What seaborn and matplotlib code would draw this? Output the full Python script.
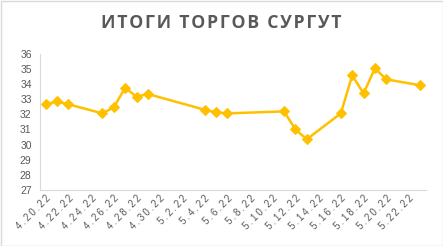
import matplotlib
matplotlib.use("Agg")
import matplotlib.pyplot as plt
import matplotlib.dates as mdates
import seaborn as sns
import pandas as pd
import numpy as np

dates = ["2022-04-20", "2022-04-21", "2022-04-22", "2022-04-25", "2022-04-26",
         "2022-04-27", "2022-04-28", "2022-04-29", "2022-05-04", "2022-05-05",
         "2022-05-06", "2022-05-11", "2022-05-12", "2022-05-13", "2022-05-16",
         "2022-05-17", "2022-05-18", "2022-05-19", "2022-05-20", "2022-05-23"]
prices = [32.66, 32.85, 32.66, 32.06, 32.46, 33.75, 33.16, 33.34, 32.30, 32.13,
          32.06, 32.19, 31.00, 30.35, 32.06, 34.57, 33.38, 35.03, 34.31, 33.91]
tick_dates = ["2022-04-20", "2022-04-22", "2022-04-24", "2022-04-26", "2022-04-28",
              "2022-04-30", "2022-05-02", "2022-05-04", "2022-05-06", "2022-05-08",
              "2022-05-10", "2022-05-12", "2022-05-14", "2022-05-16", "2022-05-18",
              "2022-05-20", "2022-05-22"]
tick_labels = ["4.20.22", "4.22.22", "4.24.22", "4.26.22", "4.28.22", "4.30.22",
               "5.2.22", "5.4.22", "5.6.22", "5.8.22", "5.10.22", "5.12.22",
               "5.14.22", "5.16.22", "5.18.22", "5.20.22", "5.22.22"]
y_ticks = [27, 28, 29, 30, 31, 32, 33, 34, 35, 36]
title = "ИТОГИ ТОРГОВ СУРГУТ"

sns.set_theme(style="white")
plt.rcParams['font.family'] = ['Liberation Sans', 'DejaVu Sans']

df = pd.DataFrame({"date": pd.to_datetime(dates), "price": prices})

fig = plt.figure(figsize=(4.43, 2.46), dpi=100)
fig.patch.set_facecolor("white")
ax = fig.add_axes([40/443, 1-190/246, (426-40)/443, (190-53.7)/246])

sns.lineplot(data=df, x="date", y="price", ax=ax, color="#FFC000",
             linewidth=1.8, marker="D", markersize=5.5,
             markeredgecolor="#FFC000", markerfacecolor="#FFC000")

gray = "#595959"
axis_col = "#D9D9D9"
start = mdates.date2num(pd.Timestamp("2022-04-20"))
ax.set_xlim(start - 0.5, start + 33.5)
ax.set_ylim(27, 36)
ax.set_yticks(y_ticks)
ax.set_yticklabels([str(v) for v in y_ticks], color=gray, fontsize=7.5)

thin = "\u2009"
spaced = [thin.join(lbl) for lbl in tick_labels]
major = mdates.date2num(pd.to_datetime(tick_dates))
ax.set_xticks(major)
ax.set_xticklabels(spaced, rotation=45, ha="right", rotation_mode="anchor",
                   color=gray, fontsize=7.0,
                   fontfamily=['Liberation Sans', 'DejaVu Sans'])
minor = [start - 0.5 + 2 * k for k in range(18)]
ax.set_xticks(minor, minor=True)
ax.tick_params(axis="x", which="major", length=0, pad=2.5)
ax.tick_params(axis="x", which="minor", length=4, color=axis_col, width=0.8, direction="out")
ax.tick_params(axis="y", length=0, pad=6)

ax.set_xlabel("")
ax.set_ylabel("")
for s in ["top", "right"]:
    ax.spines[s].set_visible(False)
for s in ["left", "bottom"]:
    ax.spines[s].set_color(axis_col)
    ax.spines[s].set_linewidth(0.8)
ax.grid(False)

hair = "\u200a"
fig.text(0.5, 1 - 23/246, hair.join(title), ha="center", va="center", fontsize=12.7,
         fontweight="bold", color=gray,
         fontfamily=['Open Sans', 'DejaVu Sans'])

fig.patches.append(plt.Rectangle((0.5/443, 0.5/246), 1 - 1/443, 1 - 1/246,
                                 transform=fig.transFigure, fill=False,
                                 edgecolor="#D9D9D9", linewidth=1))

fig.savefig("out.png", dpi=100, facecolor="white")
